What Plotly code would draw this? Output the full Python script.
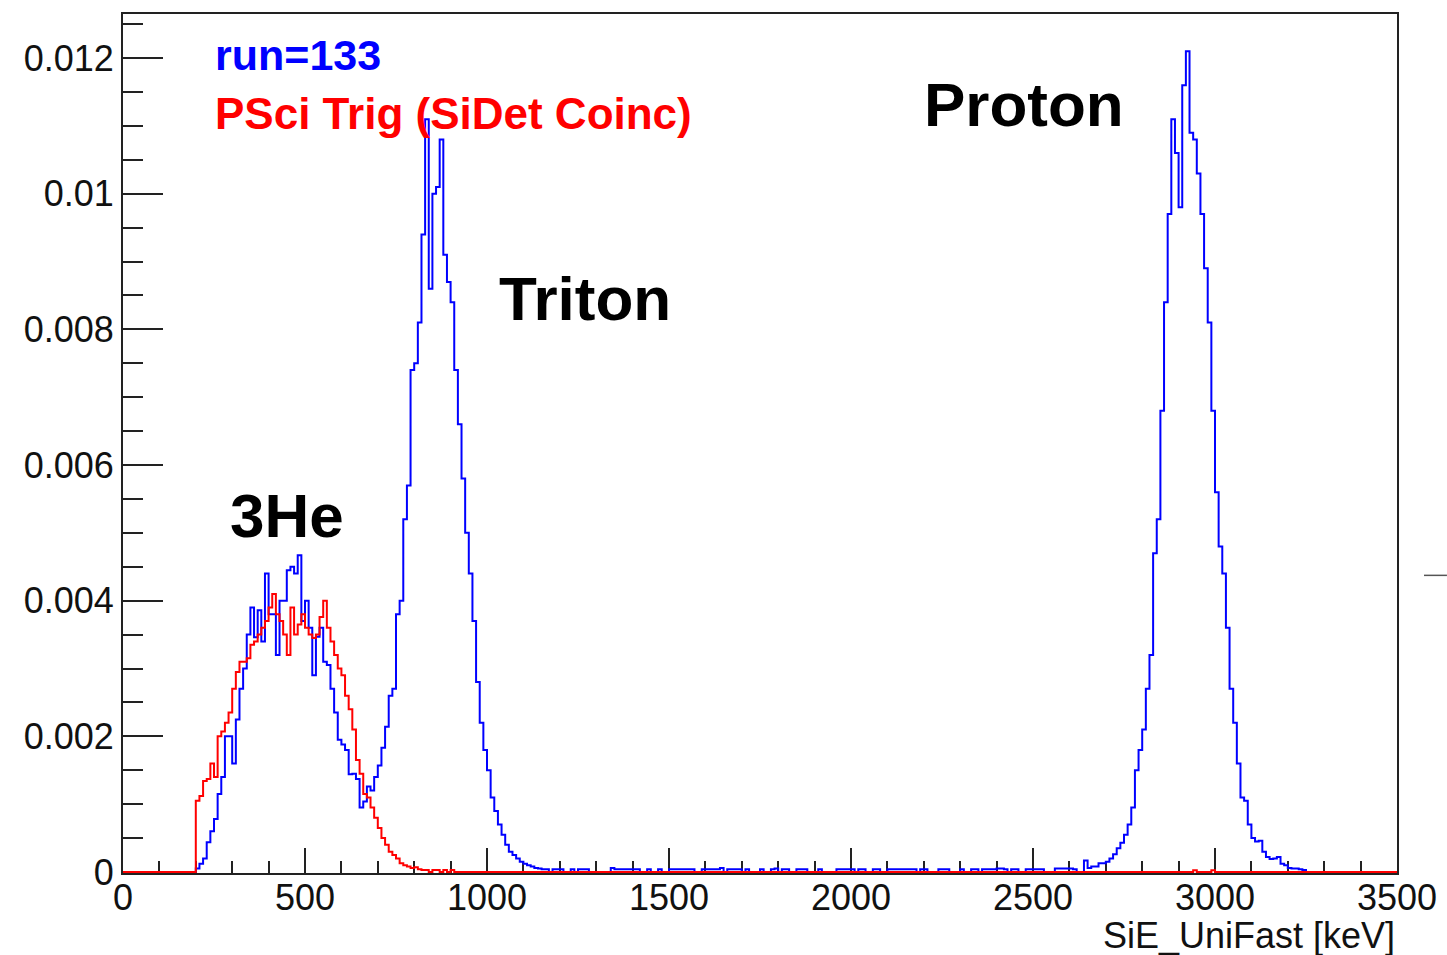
import numpy as np
import plotly.graph_objects as go

# ---- histogram binning (keV) ----
BIN_WIDTH = 10
X_MIN, X_MAX = 0, 3500

# ---- run=133, all events: normalised counts per bin, in units of 1e-4 ----
# 3He + triton region, bins starting at 200 keV
blue_he3_triton_start = 200
blue_he3_triton = [
    0.5, 1.2, 2.0, 4.4, 6.0, 7.8, 11.5, 14, 20, 20,          # 200-290
    16, 22.5, 27, 30, 35, 39, 34.6, 38.6, 34, 44,             # 300-390
    38, 38, 32, 40, 40, 44.5, 45, 44, 46.7, 37,               # 400-490
    40, 36, 29, 34.7, 36, 31, 30.5, 27, 23.5, 19.5,           # 500-590
    18.8, 18, 14.4, 14.5, 13.7, 9.5, 10.4, 12.6, 12, 14,      # 600-690
    15.7, 18.3, 21.4, 26, 27, 38, 40, 52, 57, 74,             # 700-790
    75, 81, 94, 111, 86, 100, 101, 108, 91, 87,               # 800-890
    84, 74, 66, 58, 50, 44, 37, 28, 22, 18,                   # 900-990
    15, 11, 9, 7, 5.5, 4, 3, 2.5, 2, 1.5,                     # 1000-1090
    1.2, 1.0, 0.8,                                            # 1100-1120
]
# sparse low-level tail between the peaks
blue_flat_start = 1130
blue_flat = [
    0.6, 0.5, 0.4, 0.4, 0, 0.4, 0.4, 0.4, 0, 0,               # 1130-1220
    0.4, 0, 0.4, 0.4, 0.4, 0, 0, 0, 0, 0,                     # 1230-1320
    0, 0.6, 0.4, 0.4, 0.4, 0.4, 0.4, 0.4, 0.4, 0,             # 1330-1420
    0, 0.4, 0, 0, 0.4, 0, 0, 0.4, 0.4, 0.4,                   # 1430-1520
    0.4, 0.4, 0.4, 0.4, 0, 0, 0.4, 0.4, 0.4, 0.4,             # 1530-1620
    0.4, 0.6, 0, 0.4, 0.4, 0.4, 0.4, 0, 0.4, 0,               # 1630-1720
    0, 0, 0.4, 0, 0, 0.4, 0.5, 0, 0.4, 0.4,                   # 1730-1820
    0, 0, 0.4, 0.4, 0.4, 0, 0, 0, 0.4, 0,                     # 1830-1920
    0, 0, 0, 0.4, 0.4, 0.4, 0.4, 0.4, 0, 0.4,                 # 1930-2020
    0.4, 0, 0, 0.4, 0.4, 0, 0, 0.4, 0.4, 0.4,                 # 2030-2120
    0.4, 0.4, 0.4, 0.4, 0.4, 0, 0.4, 0.4, 0, 0,               # 2130-2220
    0, 0.4, 0.4, 0.4, 0, 0, 0, 0.4, 0, 0,                     # 2230-2320
    0.4, 0.4, 0, 0.4, 0.4, 0.4, 0.4, 0.5, 0.5, 0.4,           # 2330-2420
    0, 0.4, 0.4, 0, 0, 0.4, 0.4, 0.4, 0.4, 0.4,               # 2430-2520
    0, 0, 0, 0.5, 0.5, 0.5, 0.5, 0.5, 0.4, 0,                 # 2530-2620
    0, 1.7, 0.6, 0.8, 0.8, 1.3, 1.3,                          # 2630-2690
]
# proton peak
blue_proton_start = 2700
blue_proton = [
    1.5, 2, 2.6, 3.5, 4.3, 5.5, 7, 9.5, 15, 18,               # 2700-2790
    21, 27, 32, 47, 52, 68, 84, 97, 111, 106,                 # 2800-2890
    98, 116, 121, 109, 108, 103, 97, 89, 81, 68,              # 2900-2990
    56, 48, 44, 36, 27, 22, 16, 11, 10.5, 7,                  # 3000-3090
    5, 4.5, 4.6, 3, 2.2, 1.9, 2, 2.2, 1.2, 1,                 # 3100-3190
    0.6, 0.5, 0.5, 0.4, 0.3, 0,                               # 3200-3250
]

# ---- PSci trigger (SiDet coincidence), units of 1e-4 ----
red_he3_start = 200
red_he3 = [
    10.5, 11.2, 13.4, 13.7, 16, 14, 20, 20.7, 22, 23.5,       # 200-290
    27, 29.5, 31, 31, 31.5, 33.5, 34, 35, 36, 37,             # 300-390
    39, 41, 38, 37, 35, 32, 39, 35, 36.5, 38,                 # 400-490
    36, 35, 34.5, 35, 37.6, 40, 36, 34, 32, 30,               # 500-590
    29, 26, 24, 21, 16.5, 14.5, 11.5, 11, 9.5, 8,             # 600-690
    6.5, 5, 4, 3, 2.5, 2, 1.3, 1, 0.8, 0.6,                   # 700-790
    0.7, 0.4, 0.3, 0.3, 0, 0.3, 0.3, 0, 0.3, 0,               # 800-890
    0.3,                                                      # 900
]
red_late_bins = [2940, 2990]
red_late_vals = [0.25, 0.25]

# ---- axis labels ----
x_tick_vals = [0, 500, 1000, 1500, 2000, 2500, 3000, 3500]
x_tick_text = ["0", "500", "1000", "1500", "2000", "2500", "3000", "3500"]
y_tick_vals = [0, 0.002, 0.004, 0.006, 0.008, 0.010, 0.012]
y_tick_text = ["0", "0.002", "0.004", "0.006", "0.008", "0.01", "0.012"]

SCALE = 1e-4
n_bins = (X_MAX - X_MIN) // BIN_WIDTH
edges = np.arange(X_MIN, X_MAX + BIN_WIDTH, BIN_WIDTH, dtype=float)


def fill(segments):
    h = np.zeros(n_bins)
    for start, vals in segments:
        i0 = (start - X_MIN) // BIN_WIDTH
        v = np.asarray(vals, dtype=float)
        h[i0:i0 + len(v)] = v
    return h * SCALE


blue_hist = fill([(blue_he3_triton_start, blue_he3_triton),
                  (blue_flat_start, blue_flat),
                  (blue_proton_start, blue_proton)])
red_hist = fill([(red_he3_start, red_he3)] +
                [(b, [v]) for b, v in zip(red_late_bins, red_late_vals)])


def steps(h):
    return edges, np.append(h, h[-1])


FONT = "Liberation Sans, Arial, Helvetica, sans-serif"
TICK_FONT = dict(family=FONT, size=36, color="#111111")

fig = go.Figure()
bx, by = steps(blue_hist)
fig.add_trace(go.Scatter(x=bx, y=by, mode="lines", line_shape="hv",
                         line=dict(color="#0000ff", width=2), showlegend=False))
rx, ry = steps(red_hist)
fig.add_trace(go.Scatter(x=rx, y=ry, mode="lines", line_shape="hv",
                         line=dict(color="#ff0000", width=2), showlegend=False))

axis_common = dict(showgrid=False, zeroline=False, showline=True, mirror=True,
                   linecolor="#222222", linewidth=2, ticks="inside",
                   tickcolor="#222222", tickwidth=2, layer="below traces",
                   tickfont=TICK_FONT)

# x tick labels are placed as annotations just below the frame
fig.update_xaxes(range=[X_MIN, X_MAX], tickvals=x_tick_vals, showticklabels=False,
                 ticklen=25,
                 minor=dict(dtick=100, tick0=0, ticklen=12, ticks="inside",
                            tickcolor="#222222", tickwidth=2),
                 **axis_common)
fig.update_yaxes(range=[-0.000015, 0.01265], tickvals=y_tick_vals, ticktext=y_tick_text,
                 ticklen=40, ticklabelstandoff=0,
                 minor=dict(dtick=0.0005, tick0=0, ticklen=20, ticks="inside",
                            tickcolor="#222222", tickwidth=2),
                 **axis_common)

for xv, xt in zip(x_tick_vals, x_tick_text):
    fig.add_annotation(text=xt, xref="x", yref="paper", x=xv, y=-0.028,
                       xanchor="center", yanchor="middle", showarrow=False,
                       font=TICK_FONT)

annotations = [
    dict(text="run=133", x=247, y=0.01205, font=dict(size=43, color="#0000ff")),
    dict(text="PSci Trig (SiDet Coinc)", x=247, y=0.01118, font=dict(size=44, color="#ff0000")),
    dict(text="Proton", x=2195, y=0.01131, font=dict(size=62, color="#000000")),
    dict(text="Triton", x=1027, y=0.00845, font=dict(size=62, color="#000000")),
    dict(text="3He", x=288, y=0.00526, font=dict(size=62, color="#000000")),
]
for a in annotations:
    a["text"] = "<b>" + a["text"] + "</b>"
    a["font"]["family"] = FONT
    fig.add_annotation(xref="x", yref="y", xanchor="left", yanchor="middle",
                       showarrow=False, **a)

fig.add_annotation(text="SiE_UniFast [keV]", xref="paper", yref="paper",
                   x=1.0, y=-0.073, xanchor="right", yanchor="middle", showarrow=False,
                   font=TICK_FONT)

# short stray mark in the right margin
fig.add_shape(type="line", xref="paper", yref="paper", x0=1.0212, x1=1.0392,
              y0=0.3465, y1=0.3465, line=dict(color="#555555", width=1.5))

fig.update_layout(width=1447, height=955, margin=dict(l=123, r=50, t=12, b=82),
                  paper_bgcolor="white", plot_bgcolor="white")

fig.write_html("out.html")
